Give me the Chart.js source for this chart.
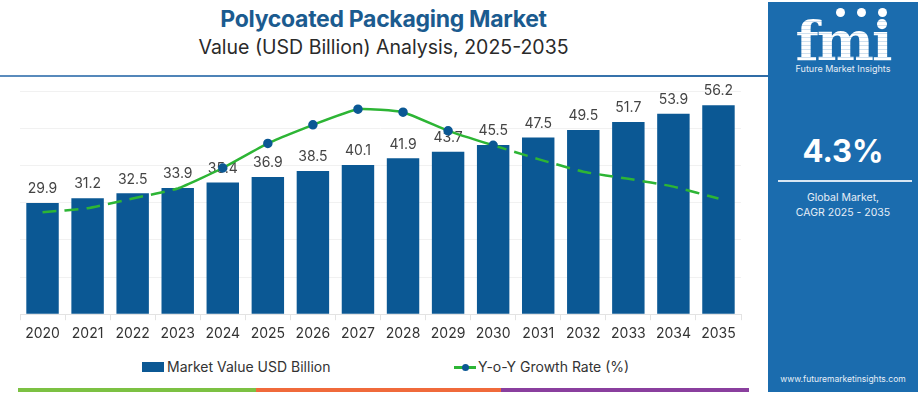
<!DOCTYPE html>
<html>
<head>
<meta charset="utf-8">
<title>Polycoated Packaging Market</title>
<script src="https://cdn.jsdelivr.net/npm/chart.js@4.4.1/dist/chart.umd.min.js"></script>
<style>
    html, body { margin: 0; padding: 0; background: #fff; }
    body { width: 918px; height: 395px; position: relative; overflow: hidden; font-family: 'Inter', sans-serif; }
    .title { position: absolute; left: 0; width: 767px; top: 5px; text-align: center; font-size: 23px; font-weight: 700; color: #1b5b8f; letter-spacing: -0.3px; }
    .subtitle { position: absolute; left: 0; width: 767px; top: 35px; text-align: center; font-size: 19.5px; color: #2a2a2a; }
    .rule { position: absolute; left: 0; top: 75px; width: 768px; height: 2px; background: linear-gradient(90deg, #5b8cbd, #3d78b0 60%, #2f6ca6); }
    #wrap { position: absolute; left: 0; top: 80px; width: 765px; height: 270px; }
    .legend { position: absolute; top: 357px; left: 0; width: 767px; height: 20px; font-size: 14px; color: #333; }
    .legend span { position: absolute; top: 0; line-height: 20px; }
    .swatch-bar { position: absolute; width: 22px; height: 10px; top: 5px; background: #0b5894; }
    .swatch-line { position: absolute; width: 22px; height: 3px; top: 9px; background: #2db535; }
    .swatch-line::after { content: ''; position: absolute; left: 8px; top: -2.5px; width: 7px; height: 7px; border-radius: 50%; background: #0b5894; }
    .band { position: absolute; top: 388px; height: 4px; }
    .panel { position: absolute; left: 768px; top: 2px; width: 150px; height: 390px; background: #1b6cae; color: #fff; text-align: center; }
    .logo { position: absolute; left: 0; width: 150px; top: 12px; font-family: 'DejaVu Serif', serif; font-weight: 700; font-size: 54px; line-height: 54px;
            background: repeating-linear-gradient(180deg, #fff 0 3px, #cfe0ef 3px 4px); -webkit-background-clip: text; background-clip: text; color: transparent; letter-spacing: -2px; }
    .dot { position: absolute; top: 6px; width: 9px; height: 9px; border-radius: 50%; background: #fff; }
    .logo-sub { position: absolute; left: 0; width: 150px; top: 61px; font-size: 9px; color: #e6eef7; }
    .cagr { position: absolute; left: 0; width: 150px; top: 130px; font-size: 31px; font-weight: 700; }
    .sep { position: absolute; left: 10px; width: 134px; top: 178px; height: 1.5px; background: #d8e6f3; }
    .note { position: absolute; left: 0; width: 150px; top: 188px; font-size: 10.5px; line-height: 15px; color: #e6eef7; }
    .url { position: absolute; left: 0; width: 150px; top: 372px; font-size: 8.5px; color: #e6eef7; }
</style>
</head>
<body>
<div class="title">Polycoated Packaging Market</div>
<div class="subtitle">Value (USD Billion) Analysis, 2025-2035</div>
<div class="rule"></div>

<div id="wrap"><canvas id="marketChart"></canvas></div>

<div class="legend">
    <div class="swatch-bar" style="left:142px"></div>
    <span id="legend-bar" style="left:167px"></span>
    <div class="swatch-line" style="left:454px"></div>
    <span id="legend-line" style="left:478px"></span>
</div>

<div class="band" style="left:18px; width:238px; background:#7cc143"></div>
<div class="band" style="left:256px; width:245px; background:#f06a3b"></div>
<div class="band" style="left:501px; width:248px; background:#8a3f9e"></div>

<div class="panel">
    <div class="logo">fmi</div>
    <div class="dot" style="left:68px"></div>
    <div class="dot" style="left:89px"></div>
    <div class="dot" style="left:110px"></div>
    <div class="logo-sub">Future Market Insights</div>
    <div class="cagr">4.3%</div>
    <div class="sep"></div>
    <div class="note">Global Market,<br>CAGR 2025 - 2035</div>
    <div class="url">www.futuremarketinsights.com</div>
</div>

<script>
// Chart data
const years = ['2020', '2021', '2022', '2023', '2024', '2025', '2026', '2027', '2028', '2029', '2030', '2031', '2032', '2033', '2034', '2035'];
const marketValue = [29.9, 31.2, 32.5, 33.9, 35.4, 36.9, 38.5, 40.1, 41.9, 43.7, 45.5, 47.5, 49.5, 51.7, 53.9, 56.2];
const growthRate = [2.74, 2.85, 3.11, 3.38, 3.93, 4.59, 5.09, 5.51, 5.43, 4.93, 4.54, 4.17, 3.83, 3.64, 3.43, 3.11];
const seriesNames = ['Market Value USD Billion', 'Y-o-Y Growth Rate (%)'];

const BAR_BLUE = '#0b5894';
const LINE_GREEN = '#2db535';

document.getElementById('legend-bar').textContent = seriesNames[0];
document.getElementById('legend-line').textContent = seriesNames[1];

// Value labels above the bars, drawn before the line so the line sits on top
const barLabels = {
    id: 'barLabels',
    afterDatasetDraw(chart, args) {
        if (args.index !== 0) return;
        const ctx = chart.ctx;
        ctx.save();
        ctx.font = "14px 'Inter', sans-serif";
        ctx.fillStyle = '#444';
        ctx.textAlign = 'center';
        ctx.textBaseline = 'middle';
        args.meta.data.forEach((bar, i) => {
            ctx.fillText(marketValue[i].toFixed(1), bar.x, bar.y - 14);
        });
        ctx.restore();
    }
};

function initChart() {
    const ctx = document.getElementById('marketChart').getContext('2d');
    Chart.defaults.font.family = "'Inter', sans-serif";

    new Chart(ctx, {
        type: 'bar',
        data: {
            labels: years,
            datasets: [{
                label: seriesNames[0],
                data: marketValue,
                backgroundColor: BAR_BLUE,
                barPercentage: 0.72,
                categoryPercentage: 1.0,
                yAxisID: 'y',
                order: 1
            }, {
                type: 'line',
                label: seriesNames[1],
                data: growthRate,
                borderColor: LINE_GREEN,
                borderWidth: 2.5,
                pointBackgroundColor: BAR_BLUE,
                pointBorderColor: BAR_BLUE,
                pointRadius: (c) => (c.dataIndex >= 4 && c.dataIndex <= 10 ? 3.5 : 0),
                tension: 0.15,
                yAxisID: 'y2',
                order: 0,
                segment: {
                    borderDash: (c) => (c.p1DataIndex <= 3 || c.p0DataIndex >= 10 ? [14, 8] : undefined)
                }
            }]
        },
        options: {
            responsive: true,
            maintainAspectRatio: false,
            animation: false,
            layout: { padding: { left: 20, right: 24, top: 11, bottom: 3 } },
            plugins: {
                legend: { display: false },
                tooltip: { enabled: false }
            },
            scales: {
                x: {
                    grid: { drawOnChartArea: false, drawTicks: true, tickLength: 6, color: '#e3e3e3' },
                    border: { color: '#e3e3e3' },
                    ticks: { color: '#333', font: { size: 14 }, padding: 5 }
                },
                y: {
                    min: 0,
                    max: 60,
                    ticks: { display: false, stepSize: 10 },
                    grid: { color: '#f1f1f1', drawTicks: false },
                    border: { display: false }
                },
                y2: {
                    display: false,
                    min: 0,
                    max: 6
                }
            }
        },
        plugins: [barLabels]
    });
}

window.addEventListener('DOMContentLoaded', () => {
    initChart();
});
</script>
</body>
</html>
